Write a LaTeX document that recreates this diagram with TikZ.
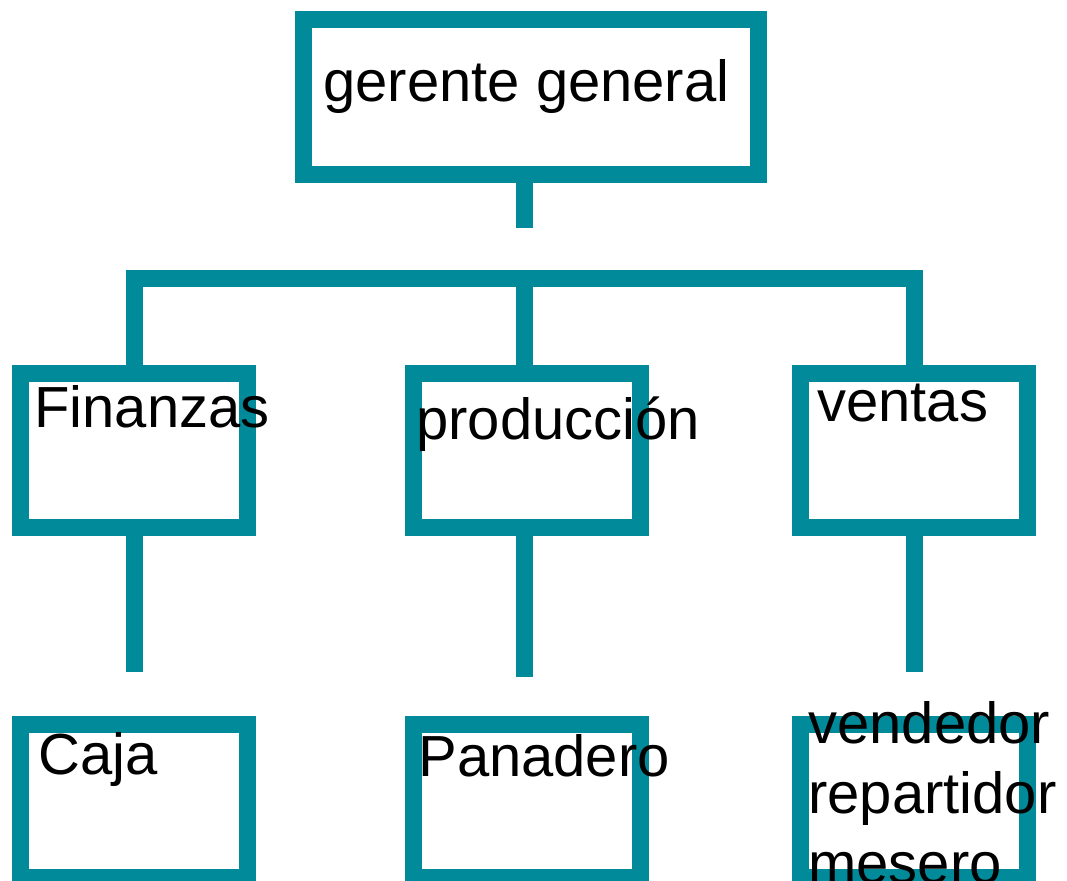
\documentclass[tikz,border=0pt]{standalone}
\usepackage{fontspec}
\setmainfont{Liberation Sans}
\definecolor{azul}{RGB}{0,138,154}
\begin{document}
\begin{tikzpicture}[x=0.02cm,y=-0.02cm,
  caja/.style={rectangle,draw=azul,line width=0.34cm,outer sep=0pt,inner sep=0pt,minimum width=4.56cm,minimum height=3.08cm},
  linea/.style={draw=azul,line width=0.34cm},
  txt/.style={anchor=base west,inner sep=0pt,font=\fontsize{33}{39.8}\selectfont}]
\useasboundingbox (0,0) rectangle (1067,881);
\clip (0,0) rectangle (1067,881);
\node[caja,minimum width=9.1cm,minimum height=3.1cm](gg) at (531,97){};
\node[caja](fin) at (134,450.5){};
\node[caja](pro) at (527,450.5){};
\node[caja](ven) at (914,450.5){};
\node[caja](cj) at (134,801){};
\node[caja](pan) at (527,801){};
\node[caja](vend) at (914,801){};
\coordinate (stem) at (524,228);
\coordinate (bar) at (524,278.5);
\coordinate (fin-end) at (134,672);
\coordinate (pro-end) at (524,677);
\coordinate (ven-end) at (914,672);
\draw[linea] (stem |- gg.south) -- (stem);
\draw[linea,line join=miter] (fin.north) -- (fin.north |- bar) -- (ven.north |- bar) -- (ven.north);
\draw[linea] (bar) -- (bar |- pro.north);
\draw[linea] (fin.south) -- (fin-end);
\draw[linea] (pro-end |- pro.south) -- (pro-end);
\draw[linea] (ven.south) -- (ven-end);
\node[txt](t-gg) at (323,102){gerente general};
\node[txt](t-fin) at (34,427){Finanzas};
\node[txt](t-pro) at (416,439){producción};
\node[txt](t-ven) at (817,421){ventas};
\node[txt](t-cj) at (38,774){Caja};
\node[txt](t-pan) at (418,776){Panadero};
% ancla en la ultima linea
\node[txt,align=left](t-vend) at (808,883){vendedor\\repartidor\\mesero};
\end{tikzpicture}
\end{document}
